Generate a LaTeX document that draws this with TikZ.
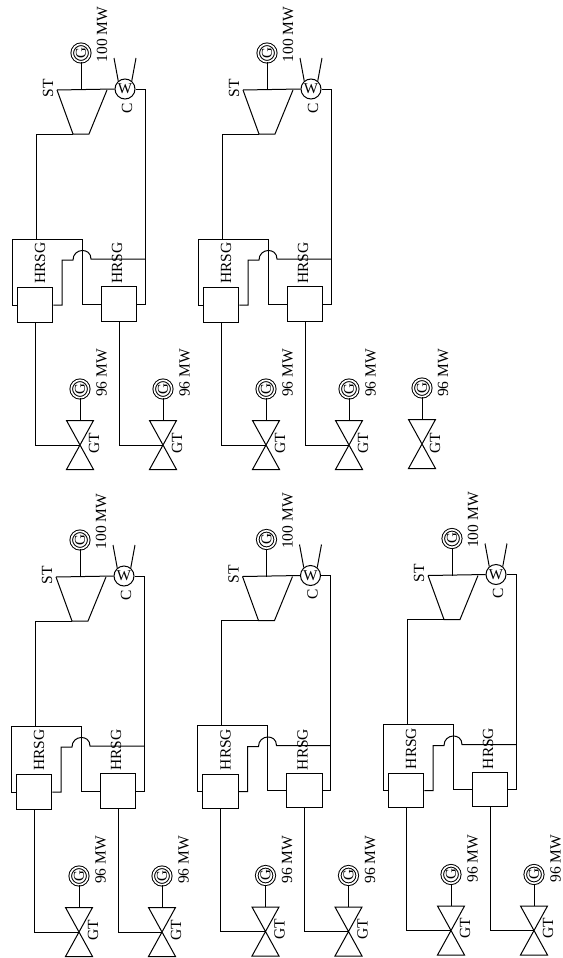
\documentclass[tikz,border=0pt]{standalone}
\usepackage{fontspec}
\setmainfont{Liberation Serif}

\begin{document}
\begin{tikzpicture}[
  x=1pt, y=-1pt, line width=1pt,
  label/.style={rotate=90, inner sep=0pt, font=\fontsize{15.5}{15.5}\selectfont},
  gen/.style={circle, draw, double, double distance=1.6pt, minimum size=17.5pt, inner sep=0pt,
    rotate=90, font=\fontsize{15}{15}\selectfont},
  cond/.style={circle, draw, minimum size=20pt, inner sep=0pt, font=\fontsize{15}{15}\selectfont},
  box/.style={rectangle, draw, minimum width=35.5pt, minimum height=34.5pt, inner sep=0pt},
  gtbody/.style={rectangle, minimum width=26pt, minimum height=48pt, inner sep=0pt}
]
  \useasboundingbox (0,0) rectangle (562,958);

  \foreach \m/\dx/\dy in {A/0/0, B/186/0, C/-1/487, D/185.5/486.5, E/371/485.5} {
    \node[gen] (G-\m) at (\dx+81, \dy+53) {G};
    \node[label] (P-\m) at (\dx+102, \dy+34.5) {100 MW};
    \node[cond] (C-\m) at (\dx+125, \dy+89) {W};
    \node[label] (CL-\m) at (\dx+127, \dy+108) {C};
    \node[label] (ST-\m) at (\dx+48, \dy+88) {ST};
    \coordinate (cw1-\m) at (\dx+114, \dy+58);
    \coordinate (cw2-\m) at (\dx+136, \dy+58);
    \coordinate (tl-\m) at (\dx+57, \dy+90);
    \coordinate (tm-\m) at (\dx+81, \dy+90);
    \coordinate (tr-\m) at (\dx+107, \dy+90);
    \coordinate (bl-\m) at (\dx+73, \dy+134);
    \coordinate (br-\m) at (\dx+89, \dy+134);
    \coordinate (rt-\m) at (\dx+145, \dy+89);

    \coordinate (hl-\m) at (\dx+12, \dy+239);
    \coordinate (hm-\m) at (\dx+36, \dy+239);
    \coordinate (hr-\m) at (\dx+82, \dy+239);
    \node[box] (B1-\m) at (\dx+35, \dy+305) {};
    \node[box] (B2-\m) at (\dx+119, \dy+304) {};
    \node[label] (H1-\m) at (\dx+40, \dy+263) {HRSG};
    \node[label] (H2-\m) at (\dx+117, \dy+263) {HRSG};
    \coordinate (bend-\m) at (\dx+62, \dy+260);
    \coordinate (j1-\m) at (\dx+73, \dy+260);
    \coordinate (j2-\m) at (\dx+91, \dy+259);
    \coordinate (tap-\m) at (\dx+145, \dy+259);
    \coordinate (rb-\m) at (\dx+145, \dy+304);

    \foreach \n/\bx in {1/80,2/163} {
      \node[gen] (GG\n-\m) at (\dx+\bx, \dy+389) {G};
      \node[label] (PG\n-\m) at (\dx+\bx+21.5, \dy+373) {96 MW};
      \node[gtbody] (GT\n-\m) at (\dx+\bx, \dy+445) {};
      \node[label] (TL\n-\m) at (\dx+\bx+14, \dy+443) {GT};
      \draw (GT\n-\m.north west) -- (GT\n-\m.north east) -- (GT\n-\m.south west) -- (GT\n-\m.south east) -- cycle;
      \draw (GG\n-\m) -- (GT\n-\m.north);
      \draw (B\n-\m.south) |- (GT\n-\m.center);
    }

    \draw (tl-\m) -- (bl-\m) -- (br-\m) -- (tr-\m);
    \draw (tl-\m) -- (C-\m.west);
    \draw (G-\m) -- (tm-\m);
    \draw (cw1-\m) -- (C-\m.130);
    \draw (cw2-\m) -- (C-\m.50);
    \draw (bl-\m) -| (hm-\m);
    \draw (B1-\m.west) -| (hl-\m) -- (hr-\m) |- (B2-\m.west);
    \draw (B1-\m.east) -| (bend-\m) -- (j1-\m) .. controls +(0,-12) and +(0,-12) .. (j2-\m) -- (tap-\m);
    \draw (C-\m.east) -- (rt-\m) -- (rb-\m) -- (B2-\m.east);
  }

  \node[gen] (GG-L) at (422, 388) {G};
  \node[label] (PG-L) at (443, 373) {96 MW};
  \node[gtbody] (GT-L) at (422, 444) {};
  \node[label] (TL-L) at (435, 443) {GT};
  \draw (GT-L.north west) -- (GT-L.north east) -- (GT-L.south west) -- (GT-L.south east) -- cycle;
  \draw (GG-L) -- (GT-L.north);
\end{tikzpicture}
\end{document}
